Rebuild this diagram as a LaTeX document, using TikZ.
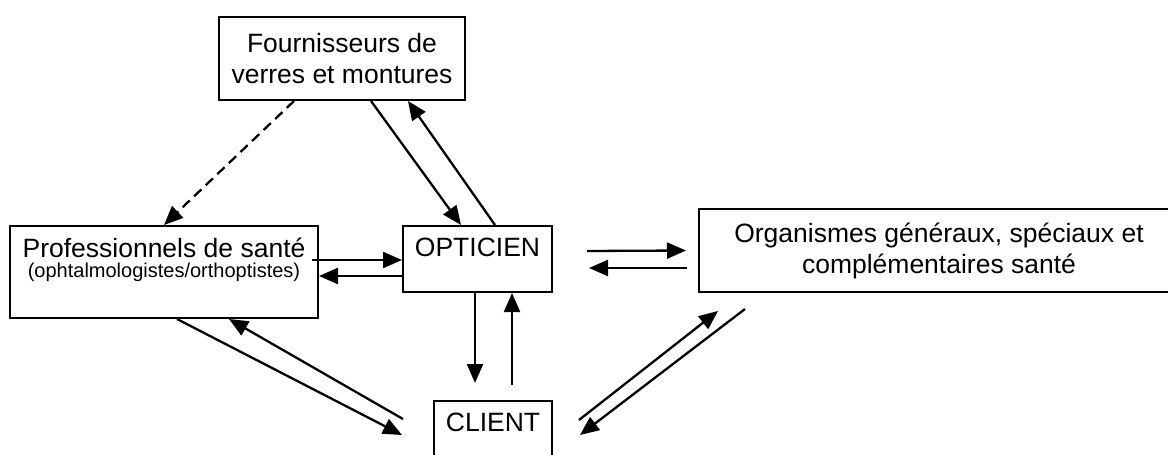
\documentclass[tikz,border=0pt]{standalone}
\usepackage{fontspec}
\setmainfont{Liberation Sans}
\usetikzlibrary{arrows.meta}

\newcommand{\bigtxt}{\fontsize{26.5}{31}\selectfont}
\newcommand{\smalltxt}{\fontsize{20}{24}\selectfont}

\tikzset{
  box/.style={draw, line width=2pt, fill=white, rectangle, anchor=north west, inner sep=0pt},
  boxtext/.style={anchor=base, inner sep=0pt, font=\bigtxt},
  arr/.style={line width=2.3pt, -{Triangle[length=19pt,width=16pt]}},
}

\begin{document}
\begin{tikzpicture}[x=1pt,y=-1pt]
  \useasboundingbox (0,0) rectangle (1168,455);

  % boxes
  \node[box, minimum width=246pt, minimum height=83pt, align=center, font=\bigtxt] (fourn) at (218,16) {Fournisseurs de\\verres et montures};
  \node[box, minimum width=308pt, minimum height=92pt] (prof) at (9,225) {};
  \node[box, minimum width=149pt, minimum height=66pt] (opt) at (402,225) {};
  \node[box, minimum width=118pt, minimum height=62pt] (client) at (433,400) {};
  \node[box, minimum width=480pt, minimum height=83pt, align=center, font=\bigtxt] (org) at (698,208) {Organismes g\'en\'eraux, sp\'eciaux et\\compl\'ementaires sant\'e};

  % texts
  \node[boxtext] (profname) at ([yshift=-32pt]prof.north) {Professionnels de sant\'e};
  \node[boxtext, font=\smalltxt] (profsub) at ([yshift=-52pt]prof.north) {(ophtalmologistes/orthoptistes)};
  \node[boxtext] (opttxt) at ([yshift=-31pt]opt.north) {OPTICIEN};
  \node[boxtext] (clienttxt) at ([yshift=-31pt]client.north) {CLIENT};

  % fournisseurs
  \draw[arr, dash pattern=on 10pt off 6pt] ([xshift=-48pt]fourn.south) -- (prof.north);
  \draw[arr] ([xshift=29pt]fourn.south) -- ([xshift=-16.5pt]opt.north);
  \draw[arr] ([xshift=17.5pt]opt.north) -- ([xshift=66pt]fourn.south);

  % professionnels <-> opticien
  \draw[arr] ([xshift=-7pt,yshift=12pt]prof.east) -- ([yshift=-1pt]opt.west);
  \draw[arr] ([yshift=-17pt]opt.west) -- ([yshift=-4pt]prof.east);

  % opticien <-> client
  \draw[arr] ([xshift=-2.5pt]opt.south) -- ([xshift=-18pt,yshift=17pt]client.north);
  \draw[arr] ([xshift=19pt,yshift=15pt]client.north) -- ([xshift=34.5pt]opt.south);

  % professionnels <-> client
  \draw[arr] ([xshift=13pt]prof.south) -- ([xshift=-31pt,yshift=-3pt]client.west);
  \draw[arr] ([xshift=-30pt,yshift=13pt]client.west) -- ([xshift=65pt]prof.south);

  % opticien <-> organismes
  \draw[arr] ([xshift=34pt,yshift=8pt]opt.east) -- ([xshift=-12pt]org.west);
  \draw[arr] ([xshift=-11pt,yshift=-17.5pt]org.west) -- ([xshift=36pt,yshift=-9pt]opt.east);

  % client <-> organismes
  \draw[arr] ([xshift=26pt,yshift=12pt]client.east) -- ([xshift=20pt,yshift=-18pt]org.south west);
  \draw[arr] ([xshift=47pt,yshift=-16pt]org.south west) -- ([xshift=27pt,yshift=-3pt]client.east);
\end{tikzpicture}
\end{document}
